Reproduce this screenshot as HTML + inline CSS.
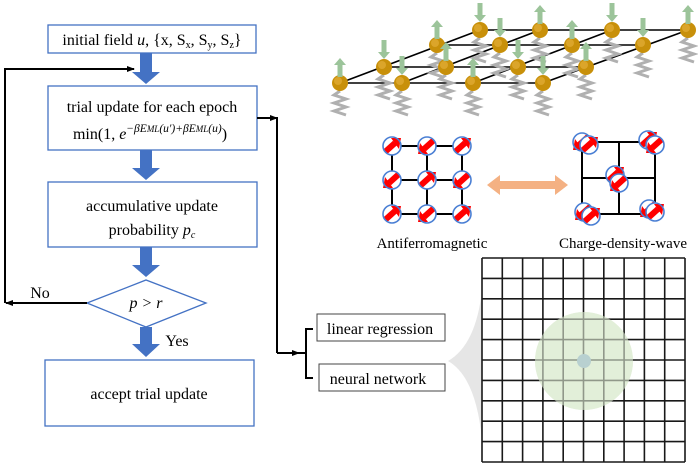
<!DOCTYPE html>
<html><head><meta charset="utf-8"><style>
body{margin:0;background:#fff}
svg{display:block;font-family:"Liberation Serif",serif}
</style></head><body>
<svg width="698" height="464" viewBox="0 0 698 464" xmlns="http://www.w3.org/2000/svg">
<defs>
<marker id="ah" markerWidth="8" markerHeight="8" refX="7" refY="4" orient="auto" markerUnits="userSpaceOnUse"><path d="M0,1 L8,4 L0,7 Z" fill="#000"/></marker>
<g id="ball"><circle r="8" fill="#c8900a"/><circle cx="-2" cy="-2" r="4" fill="#dba52a"/></g>
<path id="spring" d="M0,8 l-6,4 l12,4 l-12,4 l12,4 l-12,4 l12,4" stroke="#b0b0b0" stroke-width="3" fill="none"/>
<g id="up"><rect x="-2.5" y="-18" width="5" height="12" fill="#9cc49a"/><path d="M-6,-18 L0,-25 L6,-18Z" fill="#9cc49a"/></g>
<g id="dn"><rect x="-2.5" y="-27" width="5" height="12" fill="#9cc49a"/><path d="M-6,-15 L0,-8 L6,-15Z" fill="#9cc49a"/></g>
<g id="sp"><circle r="9" fill="#fff"/><line x1="-7" y1="6" x2="3" y2="-3" stroke="#f00" stroke-width="6"/><path d="M-1,-8 L9,-8 L7,3Z" fill="#f00"/><circle r="9" fill="none" stroke="#4a7fd4" stroke-width="1.6"/></g>
<g id="sp2"><use href="#sp" transform="rotate(180)"/></g>
</defs>

<!-- flowchart -->
<g fill="#fff" stroke="#4472c4" stroke-width="1.3">
<rect x="48" y="25" width="208" height="28"/>
<rect x="48" y="86" width="209" height="64"/>
<rect x="48" y="182" width="209" height="65"/>
<path d="M87,303 L146,280 L206,303 L146,327 Z"/>
<rect x="45" y="360" width="209" height="66"/>
<rect x="317" y="314" width="128" height="27" stroke="#444" stroke-width="1"/>
<rect x="319" y="364" width="126" height="27" stroke="#444" stroke-width="1"/>
</g>
<g fill="#4472c4">
<path d="M140,53 h12 v19 h8 l-14,12 l-14,-12 h8z"/>
<path d="M140,150 h12 v18 h8 l-14,12 l-14,-12 h8z"/>
<path d="M140,247 h12 v18 h8 l-14,12 l-14,-12 h8z"/>
<path d="M140,327 h12 v17 h8 l-14,13 l-14,-13 h8z"/>
</g>
<g font-size="16" fill="#000" text-anchor="middle">
<text x="152" y="45">initial field <tspan font-style="italic">u</tspan>, {x, S<tspan font-size="10" dy="3">x</tspan><tspan dy="-3">, S</tspan><tspan font-size="10" dy="3">y</tspan><tspan dy="-3">, S</tspan><tspan font-size="10" dy="3">z</tspan><tspan dy="-3">}</tspan></text>
<text x="152" y="112">trial update for each epoch</text>
<text x="150" y="139">min(1, <tspan font-style="italic">e</tspan><tspan font-size="11.5" dy="-7" font-style="italic">−βE<tspan font-size="9">ML</tspan>(u′)+βE<tspan font-size="9">ML</tspan>(u)</tspan><tspan dy="7">)</tspan></text>
<text x="152" y="211">accumulative update</text>
<text x="152" y="235">probability <tspan font-style="italic">p<tspan font-size="10" dy="3">c</tspan></tspan></text>
<text x="146" y="308" font-style="italic">p &gt; r</text>
<text x="149" y="399">accept trial update</text>
<text x="40" y="298">No</text>
<text x="177" y="346">Yes</text>
<text x="380" y="334">linear regression</text>
<text x="378" y="384">neural network</text>
</g>
<g stroke="#000" stroke-width="2" fill="none">
<path d="M87,303 H6" marker-end="url(#ah)"/>
<path d="M5,303 V69 H134" marker-end="url(#ah)"/>
<path d="M257,118 H277" marker-end="url(#ah)"/>
<path d="M277,117 V353"/>
<path d="M277,353 H299" marker-end="url(#ah)"/>
<path d="M313,329 H306 V378 H313 M299,353 H306"/>
</g>

<!-- gray shape -->
<path d="M482,290 Q476,345 448,361 Q476,377 482,440 Z" fill="#e6e6e6"/>
<!-- grid -->
<circle cx="584" cy="361" r="49" fill="#e2efd9"/>
<g stroke="#000" stroke-width="1.6" opacity="0.9">
<path d="M482,258V462M502.3,258V462M522.6,258V462M542.9,258V462M563.2,258V462M583.5,258V462M603.8,258V462M624.1,258V462M644.4,258V462M664.7,258V462M685,258V462"/>
<path d="M482,258H685M482,278.4H685M482,298.8H685M482,319.2H685M482,339.6H685M482,360H685M482,380.4H685M482,400.8H685M482,421.2H685M482,441.6H685M482,462H685"/>
</g>
<circle cx="584" cy="361" r="49" fill="#e2efd9" opacity="0.6"/>
<circle cx="584" cy="361" r="7" fill="#b8d0d0"/>

<!-- AFM -->
<g stroke="#000" stroke-width="2" fill="none">
<path d="M392,146H462M392,180H462M392,214H462M392,146V214M427,146V214M462,146V214"/>
<path d="M582,142H655V214H582Z M619,142V214 M582,178H655"/>
</g>
<use href="#sp" x="392" y="146"/><use href="#sp2" x="427" y="146"/><use href="#sp" x="462" y="146"/>
<use href="#sp2" x="392" y="180"/><use href="#sp" x="427" y="180"/><use href="#sp2" x="462" y="180"/>
<use href="#sp" x="392" y="214"/><use href="#sp2" x="427" y="214"/><use href="#sp" x="462" y="214"/>
<use href="#sp2" x="582" y="142"/><use href="#sp" x="589" y="145"/>
<use href="#sp" x="648" y="140"/><use href="#sp2" x="655" y="145"/>
<use href="#sp" x="615" y="175"/><use href="#sp2" x="619" y="183"/>
<use href="#sp2" x="584" y="212"/><use href="#sp" x="591" y="216"/>
<use href="#sp2" x="649" y="209"/><use href="#sp" x="655" y="212"/>
<path d="M487,185 L500,175 V181 H555 V175 L568,185 L555,195 V189 H500 V195 Z" fill="#f4b183"/>
<text x="432" y="248" font-size="15" text-anchor="middle">Antiferromagnetic</text>
<text x="623" y="248" font-size="15" text-anchor="middle">Charge-density-wave</text>

<!-- lattice -->
<g stroke="#000" stroke-width="1.6">
<path d="M340,83H543M384,67H586M437,45H643M480,30H688"/>
<path d="M340,83L480,30M402,83L540,30M473,83L612,30M543,83L688,30"/>
</g>
<g>
<use href="#spring" x="480" y="30"/><use href="#spring" x="540" y="30"/><use href="#spring" x="612" y="30"/><use href="#spring" x="688" y="30"/>
<use href="#spring" x="437" y="45"/><use href="#spring" x="500" y="45"/><use href="#spring" x="572" y="45"/><use href="#spring" x="643" y="45"/>
<use href="#spring" x="384" y="67"/><use href="#spring" x="446" y="67"/><use href="#spring" x="518" y="67"/><use href="#spring" x="586" y="67"/>
<use href="#spring" x="340" y="83"/><use href="#spring" x="402" y="83"/><use href="#spring" x="473" y="83"/><use href="#spring" x="543" y="83"/>
</g>
<g>
<use href="#ball" x="480" y="30"/><use href="#ball" x="540" y="30"/><use href="#ball" x="612" y="30"/><use href="#ball" x="688" y="30"/>
<use href="#dn" x="480" y="30"/><use href="#up" x="540" y="30"/><use href="#dn" x="612" y="30"/><use href="#up" x="688" y="30"/>
<use href="#ball" x="437" y="45"/><use href="#ball" x="500" y="45"/><use href="#ball" x="572" y="45"/><use href="#ball" x="643" y="45"/>
<use href="#up" x="437" y="45"/><use href="#dn" x="500" y="45"/><use href="#up" x="572" y="45"/><use href="#dn" x="643" y="45"/>
<use href="#ball" x="384" y="67"/><use href="#ball" x="446" y="67"/><use href="#ball" x="518" y="67"/><use href="#ball" x="586" y="67"/>
<use href="#dn" x="384" y="67"/><use href="#up" x="446" y="67"/><use href="#dn" x="518" y="67"/><use href="#up" x="586" y="67"/>
<use href="#ball" x="340" y="83"/><use href="#ball" x="402" y="83"/><use href="#ball" x="473" y="83"/><use href="#ball" x="543" y="83"/>
<use href="#up" x="340" y="83"/><use href="#dn" x="402" y="83"/><use href="#up" x="473" y="83"/><use href="#dn" x="543" y="83"/>
</g>
</svg>
</body></html>
